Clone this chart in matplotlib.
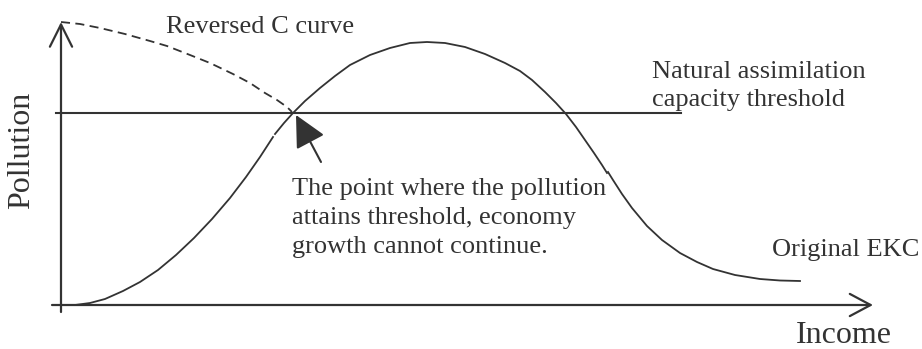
import matplotlib
matplotlib.use("Agg")
import matplotlib.pyplot as plt

# Diagram drawn in image coordinates (x to the right, y downwards)
ink = "#333333"

# EKC curve, three pieces (small breaks in the original drawing)
ekc_rise_x = [75, 90, 105, 123, 140, 158, 176, 194, 212, 230, 246, 260, 273]
ekc_rise_y = [305, 303, 299, 291, 282, 270, 255, 238, 219, 198, 177, 157, 137]

ekc_top_x = [275, 284, 293, 305, 320, 335, 350, 370, 390, 410, 427, 445, 465,
             485, 505, 520, 532, 545, 556, 566, 576, 585, 594, 602, 607]
ekc_top_y = [134, 123, 113, 101, 88, 76, 65, 55, 48, 43, 42, 43, 47,
             54, 63, 71, 80, 92, 103, 114, 127, 140, 153, 165, 173]

ekc_tail_x = [608, 613, 622, 632, 647, 662, 680, 697, 713, 735, 760, 780, 800]
ekc_tail_y = [172, 180, 194, 208, 226, 240, 253, 262, 269, 275, 279, 280.5, 281]

# reversed C curve (dashed)
rev_x = [61, 80, 100, 125, 150, 167, 190, 210, 233, 250, 265, 277, 287, 292]
rev_y = [22, 24, 28, 34, 41, 46, 55, 63, 74, 83, 93, 100, 107, 112]

# threshold line and axes
threshold_y = 113
threshold_x = [56, 681]
yaxis_x = 61
yaxis_span = [312, 22]
xaxis_y = 305
xaxis_span = [52, 873]

# pointer to the crossing point
pointer_from = (321, 162)
pointer_to = (296, 115)

fig = plt.figure(figsize=(9.22, 3.49), dpi=100)
ax = fig.add_axes([0, 0, 1, 1])
ax.set_xlim(0, 922)
ax.set_ylim(349, 0)
ax.axis("off")

# axes with open arrow heads
ax.annotate("", xy=(yaxis_x, yaxis_span[1]), xytext=(yaxis_x, yaxis_span[0]),
            arrowprops=dict(arrowstyle="->,head_length=1.6,head_width=0.8",
                            mutation_scale=10, color=ink, lw=1.6,
                            shrinkA=0, shrinkB=0))
ax.annotate("", xy=(xaxis_span[1], xaxis_y), xytext=(xaxis_span[0], xaxis_y),
            arrowprops=dict(arrowstyle="->,head_length=1.5,head_width=0.8",
                            mutation_scale=10, color=ink, lw=1.6,
                            shrinkA=0, shrinkB=0))

ax.plot(threshold_x, [threshold_y, threshold_y], color=ink, lw=1.5)

ax.plot(ekc_rise_x, ekc_rise_y, color=ink, lw=1.3)
ax.plot(ekc_top_x, ekc_top_y, color=ink, lw=1.3)
ax.plot(ekc_tail_x, ekc_tail_y, color=ink, lw=1.3)
ax.plot(rev_x, rev_y, color=ink, lw=1.3, linestyle=(0, (5, 3)))

ax.annotate("", xy=pointer_to, xytext=pointer_from,
            arrowprops=dict(arrowstyle="-|>,head_length=1.4,head_width=0.7",
                            mutation_scale=14, color=ink, lw=1.5,
                            shrinkA=0, shrinkB=0))

serif = "Liberation Serif"
ax.text(166, 33, "Reversed C curve", fontsize=19, family=serif, color=ink)
ax.text(652, 78, "Natural assimilation", fontsize=19, family=serif, color=ink)
ax.text(652, 106, "capacity threshold", fontsize=19, family=serif, color=ink)
ax.text(292, 195, "The point where the pollution", fontsize=19, family=serif, color=ink)
ax.text(292, 224, "attains threshold, economy", fontsize=19, family=serif, color=ink)
ax.text(292, 253, "growth cannot continue.", fontsize=19, family=serif, color=ink)
ax.text(772, 256, "Original EKC", fontsize=19, family=serif, color=ink)
ax.text(796, 343, "Income", fontsize=23, family=serif, color=ink)
ax.text(22, 150, "Pollution", fontsize=23, family=serif, color=ink,
        rotation=90, ha="center", va="center")

plt.savefig("out.png", dpi=100)
